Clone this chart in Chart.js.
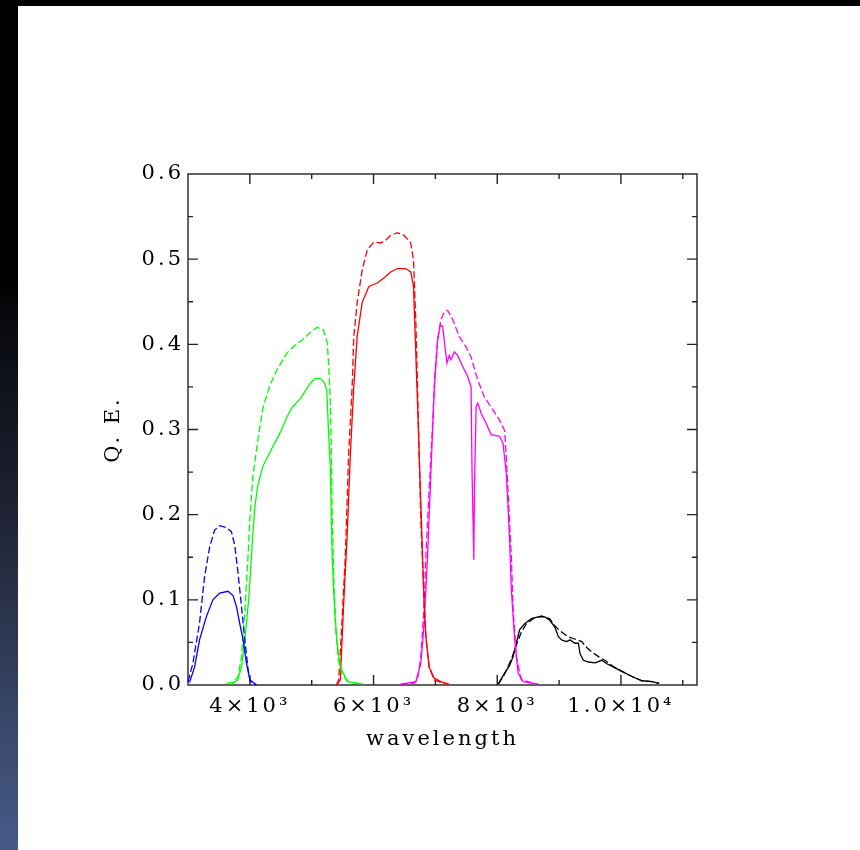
<!DOCTYPE html>
<html lang="en">
<head>
<meta charset="UTF-8">
<title>Q. E. vs wavelength</title>
<script src="https://cdn.jsdelivr.net/npm/chart.js@4.4.1/dist/chart.umd.min.js"></script>
<style>
  html, body { margin: 0; padding: 0; }
  body { width: 860px; height: 850px; position: relative; background: #000; overflow: hidden; }
  .side { position: absolute; left: 0; top: 0; width: 18px; height: 850px;
          background: linear-gradient(to bottom, #000 0%, #000 33%, #08090d 37%, #1d2333 60%, #33405e 80%, #485b88 100%); }
  .sheet { position: absolute; left: 18px; top: 6px; width: 842px; height: 844px; background: #fff; }
</style>
</head>
<body>
<div class="side"></div>
<div class="sheet"><canvas id="qeChart" width="842" height="844"></canvas></div>
<script>
// u band (blue)
const uWaveSolid = [3024, 3106, 3187, 3296, 3403, 3512, 3647, 3728, 3784, 3837, 3891, 3946, 4000, 4109]
const uQeSolid = [0.003, 0.021, 0.053, 0.080, 0.100, 0.108, 0.110, 0.105, 0.092, 0.072, 0.053, 0.025, 0.006, 0.000]
const uWaveDash = [3000, 3078, 3187, 3268, 3350, 3431, 3512, 3621, 3702, 3756, 3810, 3865, 3919, 3972, 4011, 4100]
const uQeDash = [0.004, 0.025, 0.073, 0.127, 0.162, 0.182, 0.187, 0.185, 0.180, 0.164, 0.131, 0.092, 0.053, 0.018, 0.004, 0.000]

// g band (green)
const gWaveSolid = [3707, 3805, 3870, 3919, 3984, 4016, 4049, 4081, 4130, 4211, 4358, 4488, 4602, 4683, 4813, 4976, 5057, 5138, 5203, 5244, 5273, 5301, 5328, 5354, 5382, 5415, 5463, 5577, 5837]
const gQeSolid = [0.001, 0.006, 0.023, 0.053, 0.103, 0.139, 0.178, 0.209, 0.235, 0.257, 0.278, 0.296, 0.315, 0.326, 0.336, 0.354, 0.360, 0.360, 0.355, 0.346, 0.296, 0.256, 0.159, 0.112, 0.076, 0.047, 0.021, 0.004, 0.001]
const gWaveDash = [3621, 3728, 3810, 3865, 3919, 3967, 4000, 4049, 4130, 4211, 4325, 4439, 4602, 4732, 4846, 4976, 5089, 5187, 5252, 5276, 5301, 5317, 5333, 5358, 5390, 5431, 5496, 5594, 5789]
const gQeDash = [0.002, 0.003, 0.010, 0.033, 0.088, 0.147, 0.194, 0.245, 0.288, 0.325, 0.352, 0.370, 0.390, 0.399, 0.405, 0.414, 0.420, 0.417, 0.402, 0.373, 0.335, 0.276, 0.194, 0.123, 0.065, 0.029, 0.012, 0.004, 0.001]

// r band (red)
const rWaveSolid = [5415, 5463, 5517, 5572, 5626, 5680, 5735, 5816, 5924, 6060, 6167, 6276, 6385, 6520, 6602, 6646, 6683, 6720, 6764, 6791, 6817, 6846, 6899, 6980, 7089, 7220]
const rQeSolid = [0.001, 0.006, 0.096, 0.174, 0.272, 0.350, 0.409, 0.449, 0.468, 0.472, 0.478, 0.485, 0.489, 0.489, 0.485, 0.468, 0.390, 0.311, 0.214, 0.155, 0.096, 0.057, 0.021, 0.008, 0.004, 0.001]
const rWaveDash = [5398, 5436, 5491, 5545, 5598, 5654, 5680, 5735, 5816, 5898, 6005, 6114, 6195, 6276, 6385, 6493, 6602, 6646, 6683, 6711, 6737, 6764, 6808, 6846, 6899, 6980, 7171]
const rQeDash = [0.000, 0.006, 0.076, 0.155, 0.272, 0.350, 0.409, 0.449, 0.487, 0.511, 0.520, 0.519, 0.522, 0.528, 0.531, 0.528, 0.519, 0.499, 0.429, 0.350, 0.272, 0.194, 0.115, 0.057, 0.021, 0.006, 0.001]

// i band (magenta)
const iWaveSolid = [6439, 6683, 6764, 6818, 6873, 6927, 6981, 7036, 7078, 7117, 7143, 7187, 7224, 7252, 7306, 7361, 7442, 7524, 7577, 7593, 7610, 7621, 7631, 7659, 7686, 7740, 7821, 7902, 8037, 8093, 8146, 8174, 8200, 8228, 8282, 8337, 8418, 8667]
const iQeSolid = [0.001, 0.004, 0.025, 0.072, 0.151, 0.249, 0.346, 0.405, 0.423, 0.421, 0.405, 0.378, 0.387, 0.382, 0.391, 0.387, 0.374, 0.362, 0.350, 0.249, 0.190, 0.147, 0.229, 0.327, 0.331, 0.319, 0.307, 0.294, 0.292, 0.284, 0.249, 0.209, 0.170, 0.112, 0.053, 0.014, 0.004, 0.001]
const iWaveDash = [6439, 6651, 6711, 6764, 6818, 6846, 6899, 6955, 6992, 7036, 7089, 7143, 7198, 7280, 7387, 7496, 7577, 7686, 7793, 7930, 8037, 8119, 8146, 8174, 8200, 8228, 8255, 8309, 8390, 8650]
const iQeDash = [0.001, 0.002, 0.006, 0.033, 0.092, 0.151, 0.229, 0.307, 0.366, 0.405, 0.429, 0.438, 0.440, 0.429, 0.409, 0.397, 0.385, 0.358, 0.338, 0.323, 0.311, 0.299, 0.268, 0.229, 0.190, 0.151, 0.092, 0.033, 0.006, 0.001]

// z band (black)
const zWaveSolid = [8016, 8119, 8200, 8255, 8309, 8363, 8444, 8553, 8662, 8769, 8850, 8932, 8987, 9041, 9122, 9176, 9257, 9312, 9338, 9393, 9475, 9582, 9691, 9772, 9881, 10016, 10179, 10341, 10504, 10618]
const zQeSolid = [0.001, 0.014, 0.023, 0.033, 0.049, 0.065, 0.072, 0.078, 0.080, 0.080, 0.076, 0.068, 0.057, 0.053, 0.051, 0.053, 0.049, 0.049, 0.037, 0.029, 0.027, 0.026, 0.029, 0.025, 0.021, 0.016, 0.010, 0.005, 0.004, 0.002]
const zWaveDash = [8016, 8114, 8228, 8309, 8390, 8472, 8585, 8715, 8846, 8927, 9008, 9138, 9252, 9366, 9447, 9528, 9642, 9740, 9870, 10016, 10179, 10341, 10504, 10618]
const zQeDash = [0.001, 0.012, 0.030, 0.047, 0.062, 0.072, 0.078, 0.081, 0.078, 0.070, 0.064, 0.057, 0.054, 0.051, 0.044, 0.039, 0.033, 0.029, 0.022, 0.016, 0.010, 0.005, 0.004, 0.002]

// axes
const xTickValues = [4000, 6000, 8000, 10000]
const xTickLabels = ['4×10³', '6×10³', '8×10³', '1.0×10⁴']
const xMinorTicks = [5000, 7000, 9000, 11000]
const yTickValues = [0.1, 0.2, 0.3, 0.4, 0.5]
const yMinorTicks = [0.05, 0.15, 0.25, 0.35, 0.45, 0.55]

const FONT = "'DejaVu Serif', 'Liberation Serif', serif"

function curve(wl, qe, color, dashed) {
    return {
        data: wl.map((w, i) => ({x: w, y: qe[i]})),
        borderColor: color,
        borderWidth: 1.3,
        borderDash: dashed ? [7, 3] : [],
        pointRadius: 0,
        tension: 0,
        fill: false,
        clip: 2
    }
}

// frame + inward ticks on all four sides, like the original plot
const frameTicks = {
    id: 'frameTicks',
    beforeDraw(chart) {
        chart.ctx.letterSpacing = '3px'
    },
    beforeDatasetsDraw(chart) {
        const {ctx, chartArea: a, scales: {x, y}} = chart
        ctx.save()
        ctx.strokeStyle = '#222'
        ctx.lineWidth = 1.4
        ctx.beginPath()
        const seg = (x1, y1, x2, y2) => { ctx.moveTo(x1, y1); ctx.lineTo(x2, y2) }
        xTickValues.forEach(v => {
            const p = x.getPixelForValue(v)
            seg(p, a.bottom, p, a.bottom - 10); seg(p, a.top, p, a.top + 10)
        })
        xMinorTicks.forEach(v => {
            const p = x.getPixelForValue(v)
            seg(p, a.bottom, p, a.bottom - 5); seg(p, a.top, p, a.top + 5)
        })
        yTickValues.forEach(v => {
            const p = y.getPixelForValue(v)
            seg(a.left, p, a.left + 10, p); seg(a.right, p, a.right - 10, p)
        })
        yMinorTicks.forEach(v => {
            const p = y.getPixelForValue(v)
            seg(a.left, p, a.left + 5, p); seg(a.right, p, a.right - 5, p)
        })
        ctx.stroke()
        ctx.strokeRect(a.left, a.top, a.width, a.height)
        ctx.restore()
    }
}

new Chart(document.getElementById('qeChart'), {
    type: 'line',
    data: {
        datasets: [
            curve(uWaveDash, uQeDash, '#0000ff', true),
            curve(uWaveSolid, uQeSolid, '#0000ff', false),
            curve(gWaveDash, gQeDash, '#00ff00', true),
            curve(gWaveSolid, gQeSolid, '#00ff00', false),
            curve(rWaveDash, rQeDash, '#ff0000', true),
            curve(rWaveSolid, rQeSolid, '#ff0000', false),
            curve(iWaveDash, iQeDash, '#ff00ff', true),
            curve(iWaveSolid, iQeSolid, '#ff00ff', false),
            curve(zWaveDash, zQeDash, '#000000', true),
            curve(zWaveSolid, zQeSolid, '#000000', false)
        ]
    },
    options: {
        responsive: false,
        animation: false,
        events: [],
        layout: {padding: {left: 83, right: 163, top: 168, bottom: 98}},
        plugins: {legend: {display: false}, tooltip: {enabled: false}},
        scales: {
            x: {
                type: 'linear',
                min: 3000,
                max: 11230,
                grid: {display: false, drawTicks: false},
                border: {display: false},
                afterBuildTicks: s => { s.ticks = xTickValues.map(v => ({value: v})) },
                afterFit: s => { s.height = 67 },
                ticks: {
                    color: '#000',
                    padding: 9,
                    maxRotation: 0,
                    font: {family: FONT, size: 21},
                    callback: v => xTickLabels[xTickValues.indexOf(v)]
                },
                title: {
                    display: true,
                    text: 'wavelength',
                    color: '#000',
                    padding: 0,
                    font: {family: FONT, size: 21}
                }
            },
            y: {
                min: 0,
                max: 0.6,
                grid: {display: false, drawTicks: false},
                border: {display: false},
                afterFit: s => { s.width = 87 },
                ticks: {
                    color: '#000',
                    stepSize: 0.1,
                    padding: 4,
                    font: {family: FONT, size: 21},
                    callback: v => v.toFixed(1)
                },
                title: {
                    display: true,
                    text: 'Q. E.',
                    color: '#000',
                    padding: 0,
                    font: {family: FONT, size: 21}
                }
            }
        }
    },
    plugins: [frameTicks]
})
</script>
</body>
</html>
